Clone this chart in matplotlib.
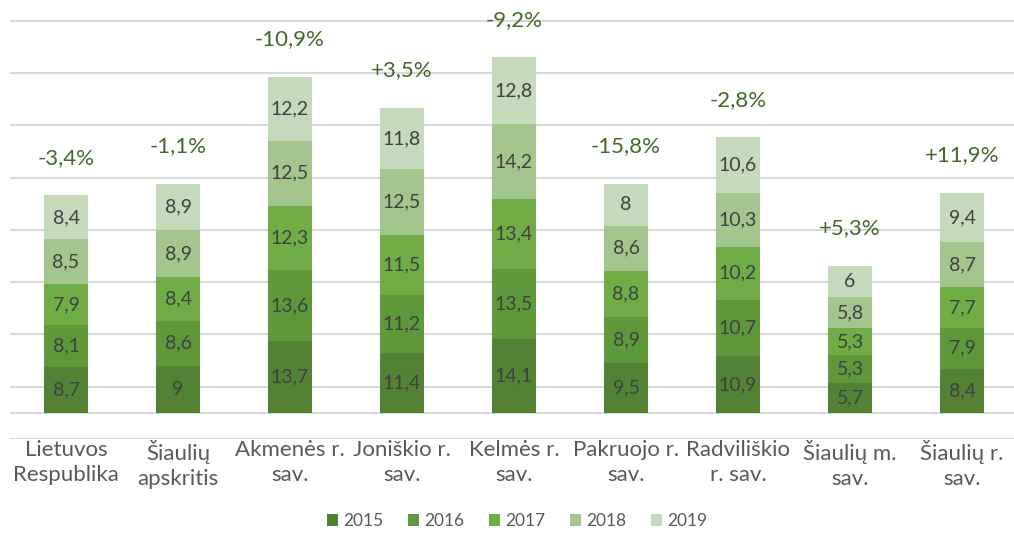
import matplotlib
matplotlib.use("Agg")
import matplotlib.pyplot as plt
import numpy as np

plt.rcParams["font.family"] = ["Lato", "DejaVu Sans"]

categories = ["Lietuvos\nRespublika", "Šiaulių\napskritis", "Akmenės r.\nsav.", "Joniškio r.\nsav.",
              "Kelmės r.\nsav.", "Pakruojo r.\nsav.", "Radviliškio\nr. sav.", "Šiaulių m.\nsav.",
              "Šiaulių r.\nsav."]
years = ["2015", "2016", "2017", "2018", "2019"]
v2015 = [8.7, 9, 13.7, 11.4, 14.1, 9.5, 10.9, 5.7, 8.4]
v2016 = [8.1, 8.6, 13.6, 11.2, 13.5, 8.9, 10.7, 5.3, 7.9]
v2017 = [7.9, 8.4, 12.3, 11.5, 13.4, 8.8, 10.2, 5.3, 7.7]
v2018 = [8.5, 8.9, 12.5, 12.5, 14.2, 8.6, 10.3, 5.8, 8.7]
v2019 = [8.4, 8.9, 12.2, 11.8, 12.8, 8, 10.6, 6, 9.4]
changes = ["-3,4%", "-1,1%", "-10,9%", "+3,5%", "-9,2%", "-15,8%", "-2,8%", "+5,3%", "+11,9%"]

series = [v2015, v2016, v2017, v2018, v2019]
colors = ["#548235", "#5f973b", "#70ad47", "#a3c68f", "#c5dabb"]

fig = plt.figure(figsize=(10.14, 5.34), dpi=100)
ax = fig.add_axes([10 / 1014, 95 / 534, 1008 / 1014, 439 / 534])

x = np.arange(len(categories))
bottom = np.zeros(len(categories))
for vals, year, col in zip(series, years, colors):
    vals = np.array(vals)
    ax.bar(x, vals, 0.39, bottom=bottom, color=col, label=year, zorder=2)
    for xi, b, v in zip(x, bottom, vals):
        txt = ("%g" % v).replace(".", ",")
        ax.text(xi, b + v / 2, txt, ha="center", va="center", fontsize=14, color="#404040", zorder=3)
    bottom += vals

for xi, top, ch in zip(x, bottom, changes):
    ax.annotate(ch, (xi, top), xytext=(0, 27), textcoords="offset points",
                ha="center", va="center", fontsize=16, color="#43682b")

ax.set_xlim(-0.5, len(categories) - 0.5)
ax.set_ylim(-5, 79)
ax.set_yticks(np.arange(-5, 80, 10))
ax.yaxis.grid(True, color="#d9d9d9", linewidth=1.5, zorder=0)
ax.axhline(0, color="#d9d9d9", linewidth=1.5, zorder=1)
ax.tick_params(left=False, labelleft=False, bottom=False)
ax.set_xticks(x)
ax.set_xticklabels(categories, fontsize=16, color="#595959", linespacing=1.35)
ax.tick_params(axis="x", pad=-3)
for s in ax.spines.values():
    s.set_visible(False)

fig.legend(loc="center", bbox_to_anchor=(0.51, 0.024), ncol=5, frameon=False, fontsize=12.5,
           labelcolor="#595959", handlelength=0.65, handleheight=0.65, handletextpad=0.3, columnspacing=1.4)

fig.savefig("out.png", dpi=100)
